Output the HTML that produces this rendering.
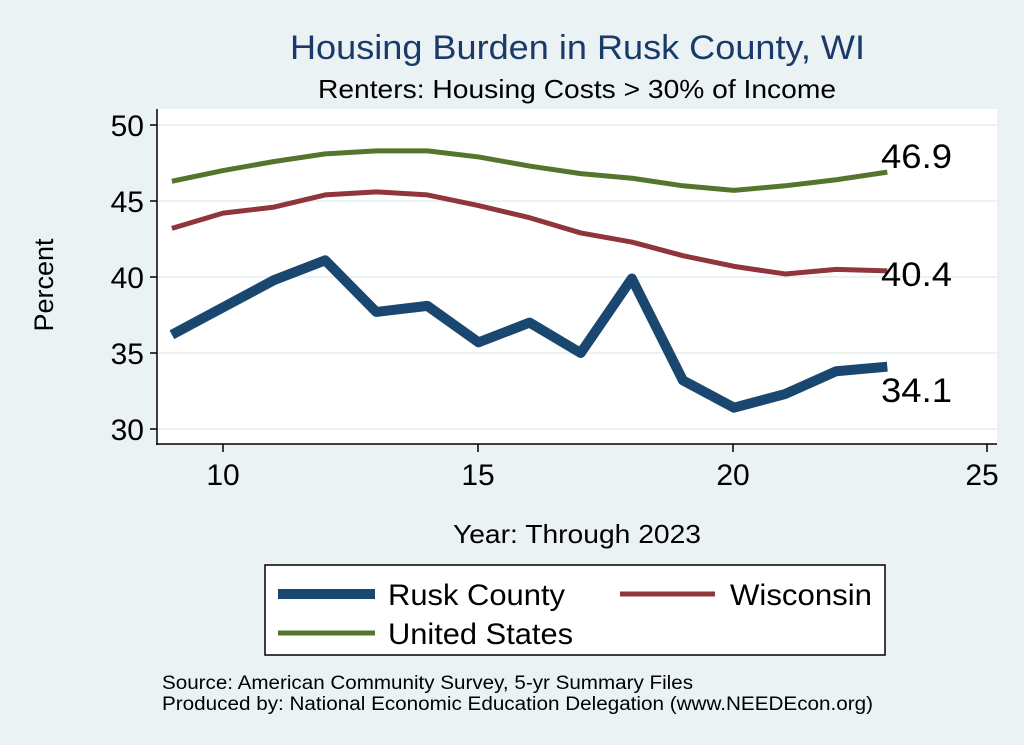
<!DOCTYPE html>
<html><head><style>
body{margin:0;background:#eaf2f3;}
svg{display:block;font-family:"Liberation Sans",Arial,sans-serif;}
</style></head><body>
<svg width="1024" height="745" viewBox="0 0 1024 745">
<rect width="1024" height="745" fill="#eaf2f3"/>
<text x="290" y="59" font-size="34" fill="#1a3a6a" textLength="575" lengthAdjust="spacingAndGlyphs">Housing Burden in Rusk County, WI</text>
<text x="318" y="98" font-size="26" fill="#000" textLength="518" lengthAdjust="spacingAndGlyphs">Renters: Housing Costs &gt; 30% of Income</text>
<rect x="157" y="109" width="840" height="335" fill="#fff"/>
<g stroke="#eaf2f3" stroke-width="2">
<line x1="158" x2="997" y1="125" y2="125"/><line x1="158" x2="997" y1="201" y2="201"/>
<line x1="158" x2="997" y1="277" y2="277"/><line x1="158" x2="997" y1="353" y2="353"/>
<line x1="158" x2="997" y1="429" y2="429"/></g>
<g stroke="#000" stroke-width="1.5" fill="none">
<line x1="157" y1="109" x2="157" y2="445"/><line x1="156" y1="444" x2="997" y2="444"/>
<line x1="150" x2="157" y1="125" y2="125"/><line x1="150" x2="157" y1="201" y2="201"/>
<line x1="150" x2="157" y1="277" y2="277"/><line x1="150" x2="157" y1="353" y2="353"/>
<line x1="150" x2="157" y1="429" y2="429"/>
<line x1="223" x2="223" y1="444" y2="452"/><line x1="478" x2="478" y1="444" y2="452"/>
<line x1="733" x2="733" y1="444" y2="452"/><line x1="987" x2="987" y1="444" y2="452"/>
</g>
<g font-size="30" text-anchor="end" fill="#000">
<text x="144" y="136">50</text><text x="144" y="212">45</text><text x="144" y="288">40</text>
<text x="144" y="364">35</text><text x="144" y="440">30</text></g>
<g font-size="30" text-anchor="middle" fill="#000">
<text x="223" y="485">10</text><text x="478" y="485">15</text><text x="733" y="485">20</text><text x="982" y="485">25</text></g>
<text transform="translate(53,285) rotate(-90)" text-anchor="middle" font-size="27">Percent</text>
<text x="453" y="543" font-size="26" textLength="248" lengthAdjust="spacingAndGlyphs">Year: Through 2023</text>
<g transform="translate(-288,885) scale(51.1,-15.2)" fill="none" stroke-linejoin="round">
<polyline vector-effect="non-scaling-stroke" stroke="#55752f" stroke-width="5" points="9,46.3 10,47.0 11,47.6 12,48.1 13,48.3 14,48.3 15,47.9 16,47.3 17,46.8 18,46.5 19,46.0 20,45.7 21,46.0 22,46.4 23,46.9"/>
<polyline vector-effect="non-scaling-stroke" stroke="#90353b" stroke-width="5" points="9,43.2 10,44.2 11,44.6 12,45.4 13,45.6 14,45.4 15,44.7 16,43.9 17,42.9 18,42.3 19,41.4 20,40.7 21,40.2 22,40.5 23,40.4"/>
<polyline vector-effect="non-scaling-stroke" stroke="#1a476f" stroke-width="10" points="9,36.2 10,38 11,39.8 12,41.1 13,37.7 14,38.1 15,35.7 16,37 17,35 18,39.9 19,33.2 20,31.4 21,32.3 22,33.8 23,34.1"/>
</g>
<g font-size="34" fill="#000">
<text x="881" y="168" textLength="71" lengthAdjust="spacingAndGlyphs">46.9</text>
<text x="881" y="286" textLength="71" lengthAdjust="spacingAndGlyphs">40.4</text>
<text x="881" y="402" textLength="71" lengthAdjust="spacingAndGlyphs">34.1</text></g>
<rect x="265" y="565" width="620" height="90" fill="#fff" stroke="#000" stroke-width="1.5"/>
<line x1="278" x2="375" y1="594" y2="594" stroke="#1a476f" stroke-width="10"/>
<line x1="620" x2="715" y1="594" y2="594" stroke="#90353b" stroke-width="5"/>
<line x1="278" x2="375" y1="633" y2="633" stroke="#55752f" stroke-width="5"/>
<g font-size="30" fill="#000">
<text x="388" y="605" textLength="177" lengthAdjust="spacingAndGlyphs">Rusk County</text>
<text x="730" y="605" textLength="142" lengthAdjust="spacingAndGlyphs">Wisconsin</text>
<text x="388" y="644" textLength="185" lengthAdjust="spacingAndGlyphs">United States</text></g>
<g font-size="19" fill="#000">
<text x="162" y="689" textLength="531" lengthAdjust="spacingAndGlyphs">Source: American Community Survey, 5-yr Summary Files</text>
<text x="162" y="710" textLength="711" lengthAdjust="spacingAndGlyphs">Produced by: National Economic Education Delegation (www.NEEDEcon.org)</text></g>
</svg>
</body></html>
